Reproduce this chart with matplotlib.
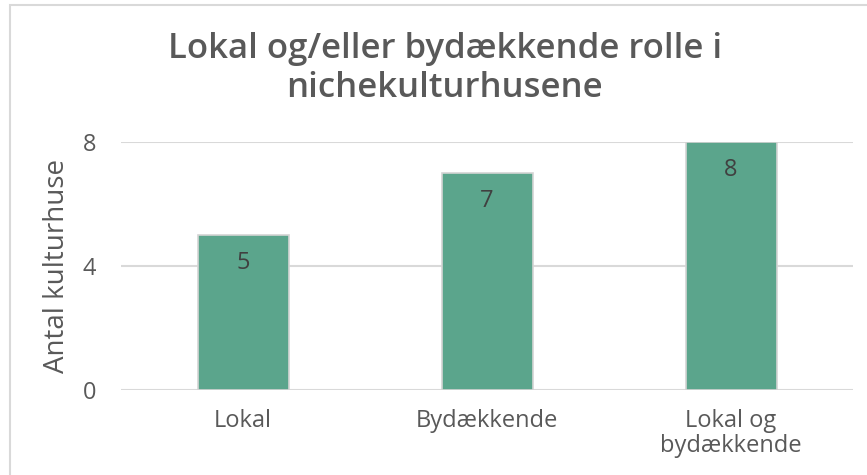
import matplotlib
matplotlib.use("Agg")
import matplotlib.pyplot as plt
from matplotlib.patches import Rectangle

kategorier = ["Lokal", "Bydækkende", "Lokal og\nbydækkende"]
antal = [5, 7, 8]
yticks = [0, 4, 8]

plt.rcParams['font.family'] = ['Open Sans', 'DejaVu Sans']

fig = plt.figure(figsize=(8.67, 4.75), dpi=100)
ax = fig.add_axes([0.1396, 0.179, 0.8444, 0.522])

# ramme rundt om diagrammet (beskåret i højre og bund)
fig.patches.append(Rectangle((10 / 867, -0.1), 1.2, 1 - 5 / 475 + 0.1,
                             transform=fig.transFigure, fill=False,
                             edgecolor="#D9D9D9", linewidth=1.5))

x = range(len(kategorier))
bars = ax.bar(x, antal, width=0.373, color="#5BA58C", edgecolor="#D4D4D4",
              linewidth=1.2, zorder=3)

for b, v in zip(bars, antal):
    ax.text(b.get_x() + b.get_width() / 2, v - 0.9, str(v), ha="center",
            va="center", fontsize=17, color="#404040", zorder=4)

ax.set_xlim(-0.5, 2.5)
ax.set_ylim(0, 8)
ax.set_yticks(yticks)
ax.set_xticks(list(x))
ax.set_xticklabels(kategorier, fontsize=17, color="#595959", linespacing=1.05)
ax.tick_params(axis="y", labelsize=17, labelcolor="#595959", length=0, pad=18)
ax.tick_params(axis="x", length=0, pad=14)
ax.yaxis.grid(True, color="#D9D9D9", linewidth=1.5, zorder=0)
for s in ax.spines.values():
    s.set_visible(False)

ax.set_ylabel("Antal kulturhuse", fontsize=20, color="#595959", labelpad=8)
fig.text(0.513, 0.855, "Lokal og/eller bydækkende rolle i\nnichekulturhusene",
         ha="center", va="center", fontsize=25, fontweight="semibold",
         color="#595959", linespacing=1.2)

fig.savefig("out.png", dpi=100)
